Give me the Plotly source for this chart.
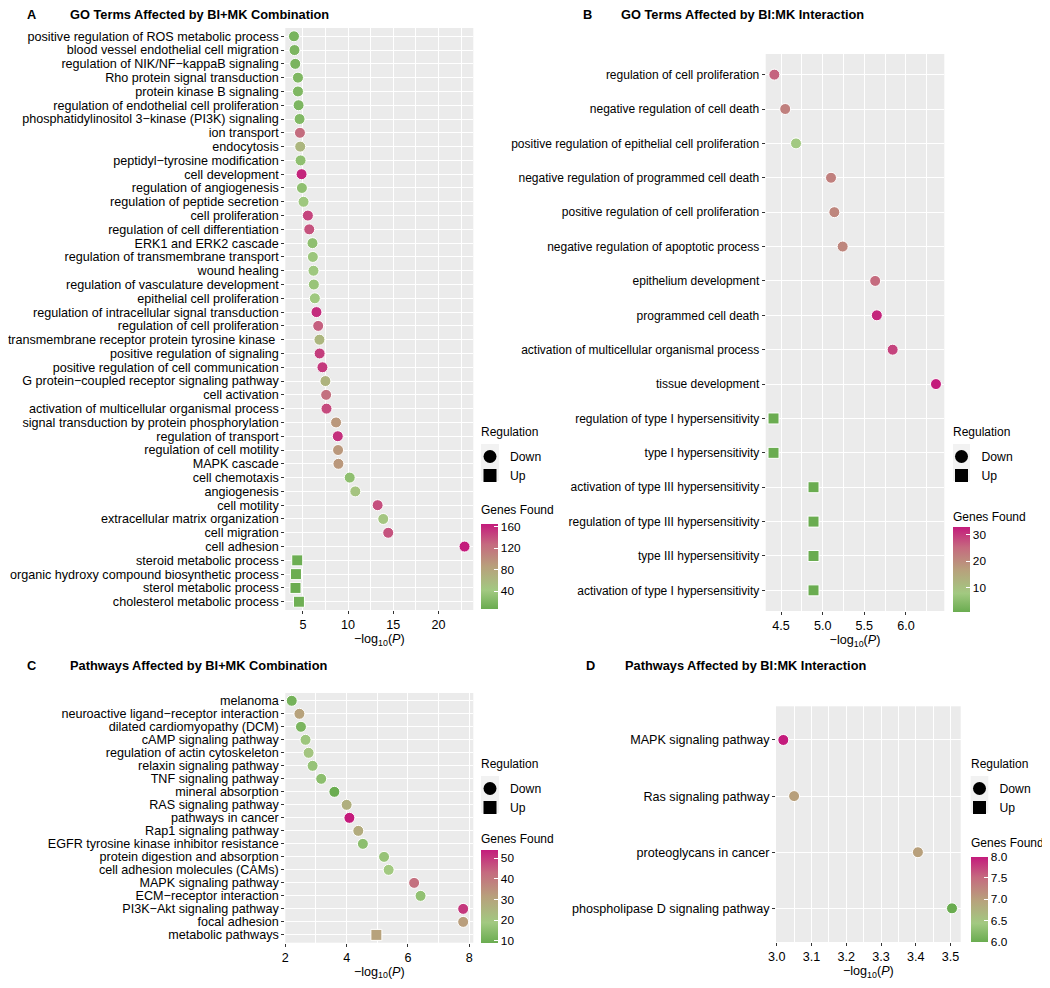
import plotly.graph_objects as go

# ---------------- data ----------------
a_terms = ["positive regulation of ROS metabolic process", "blood vessel endothelial cell migration",
           "regulation of NIK/NF−kappaB signaling", "Rho protein signal transduction", "protein kinase B signaling",
           "regulation of endothelial cell proliferation", "phosphatidylinositol 3−kinase (PI3K) signaling",
           "ion transport", "endocytosis", "peptidyl−tyrosine modification", "cell development",
           "regulation of angiogenesis", "regulation of peptide secretion", "cell proliferation",
           "regulation of cell differentiation", "ERK1 and ERK2 cascade", "regulation of transmembrane transport",
           "wound healing", "regulation of vasculature development", "epithelial cell proliferation",
           "regulation of intracellular signal transduction", "regulation of cell proliferation",
           "transmembrane receptor protein tyrosine kinase\u00a0", "positive regulation of signaling",
           "positive regulation of cell communication", "G protein−coupled receptor signaling pathway",
           "cell activation", "activation of multicellular organismal process",
           "signal transduction by protein phosphorylation", "regulation of transport", "regulation of cell motility",
           "MAPK cascade", "cell chemotaxis", "angiogenesis", "cell motility", "extracellular matrix organization",
           "cell migration", "cell adhesion", "steroid metabolic process",
           "organic hydroxy compound biosynthetic process", "sterol metabolic process",
           "cholesterol metabolic process"]
a_logp = [4.01, 4.07, 4.15, 4.45, 4.45, 4.52, 4.63, 4.67, 4.70, 4.74,
          4.85, 4.89, 5.07, 5.55, 5.70, 6.06, 6.10, 6.17, 6.21, 6.32,
          6.50, 6.69, 6.83, 6.85, 7.16, 7.49, 7.57, 7.61, 8.67, 8.86,
          8.89, 8.93, 10.18, 10.80, 13.27, 13.89, 14.44, 22.89,
          4.37, 4.23, 4.18, 4.56]
a_genes = [16, 18, 17, 20, 20, 18, 22, 125, 62, 30,
           160, 30, 40, 145, 138, 30, 38, 40, 36, 40,
           157, 132, 62, 148, 150, 66, 122, 142, 92, 155,
           92, 92, 30, 48, 140, 45, 138, 165,
           9, 8, 7, 10]
a_reg = ["Down"] * 38 + ["Up"] * 4

b_terms = ["regulation of cell proliferation", "negative regulation of cell death",
           "positive regulation of epithelial cell proliferation", "negative regulation of programmed cell death",
           "positive regulation of cell proliferation", "negative regulation of apoptotic process",
           "epithelium development", "programmed cell death", "activation of multicellular organismal process",
           "tissue development", "regulation of type I hypersensitivity", "type I hypersensitivity",
           "activation of type III hypersensitivity", "regulation of type III hypersensitivity",
           "type III hypersensitivity", "activation of type I hypersensitivity"]
b_logp = [4.42, 4.55, 4.68, 5.10, 5.14, 5.24, 5.63, 5.65, 5.84, 6.36, 4.41, 4.41, 4.89, 4.89, 4.89, 4.89]
b_genes = [26, 22, 8, 22, 21, 21, 25, 32, 29, 33, 1, 1, 1, 1, 1, 1]
b_reg = ["Down"] * 10 + ["Up"] * 6

c_terms = ["melanoma", "neuroactive ligand−receptor interaction", "dilated cardiomyopathy (DCM)",
           "cAMP signaling pathway", "regulation of actin cytoskeleton", "relaxin signaling pathway",
           "TNF signaling pathway", "mineral absorption", "RAS signaling pathway", "pathways in cancer",
           "Rap1 signaling pathway", "EGFR tyrosine kinase inhibitor resistance", "protein digestion and absorption",
           "cell adhesion molecules (CAMs)", "MAPK signaling pathway", "ECM−receptor interaction",
           "PI3K−Akt signaling pathway", "focal adhesion", "metabolic pathways"]
c_logp = [2.21, 2.46, 2.51, 2.66, 2.76, 2.89, 3.17, 3.60, 4.00, 4.09, 4.38, 4.53, 5.22, 5.37, 6.20, 6.41,
          7.80, 7.80, 4.97]
c_genes = [11, 31, 12, 18, 20, 17, 15, 9, 27, 54, 28, 15, 17, 19, 42, 16, 50, 32, 31]
c_reg = ["Down"] * 18 + ["Up"]

d_terms = ["MAPK signaling pathway", "Ras signaling pathway", "proteoglycans in cancer",
           "phospholipase D signaling pathway"]
d_logp = [3.019, 3.050, 3.406, 3.504]
d_genes = [8, 7, 7, 6]
d_reg = ["Down"] * 4

titles = ["GO Terms Affected by BI+MK Combination", "GO Terms Affected by BI:MK Interaction",
          "Pathways Affected by BI+MK Combination", "Pathways Affected by BI:MK Interaction"]
letters = ["A", "B", "C", "D"]
reg_levels = ["Down", "Up"]

# ---------------- styling / layout ----------------
# the page body has an 8 px margin, so the figure is sized to fill the rest of the window
OFF = 8
W, H = 1050 - OFF, 988 - OFF
FONT = "Liberation Sans, Arial, Helvetica, sans-serif"
COLORSCALE = [[0.0, "#6aac50"], [0.22, "#a2c981"], [0.5, "#b8a07c"], [0.76, "#c56a7f"], [1.0, "#c41b7c"]]
SYMBOLS = {"Down": "circle", "Up": "square"}


def fx(p):
    return (p - OFF) / W


def fy(p):
    return 1 - (p - OFF) / H


panels = [
    dict(terms=a_terms, logp=a_logp, genes=a_genes, reg=a_reg,
         px=(285.3, 473.3), py=(28, 610), xr=(3.05, 23.86), tick0=5, dtick=5, mdtick=2.5, fmt="",
         lab=(31, 15), tit=(68, 15), fs=12.6,
         leg=(481, 432, 499), cb=(481, 524, 609), cbt=(481, 510), cbtick=[40, 80, 120, 160], cbfmt=""),
    dict(terms=b_terms, logp=b_logp, genes=b_genes, reg=b_reg,
         px=(765.7, 944.3), py=(54, 611), xr=(4.316, 6.46), tick0=4.5, dtick=0.5, mdtick=0.25, fmt=".1f",
         lab=(587, 15), tit=(619, 15), fs=12.0,
         leg=(953, 432, 970), cb=(953, 526.7, 612), cbt=(953, 517), cbtick=[10, 20, 30], cbfmt=""),
    dict(terms=c_terms, logp=c_logp, genes=c_genes, reg=c_reg,
         px=(285.3, 473.3), py=(693, 942.7), xr=(2.0, 8.13), tick0=2, dtick=2, mdtick=1, fmt="",
         lab=(31, 665), tit=(68, 665), fs=12.6,
         leg=(481, 764, 499), cb=(481, 850, 942.7), cbt=(481, 839), cbtick=[10, 20, 30, 40, 50], cbfmt=""),
    dict(terms=d_terms, logp=d_logp, genes=d_genes, reg=d_reg,
         px=(776, 960.7), py=(706.3, 942), xr=(2.998, 3.529), tick0=3.0, dtick=0.1, mdtick=0.05, fmt=".1f",
         lab=(590, 665), tit=(623, 665), fs=12.6,
         leg=(970.7, 764, 988.3), cb=(970.7, 856.7, 942), cbt=(970.7, 843), cbtick=[6.0, 6.5, 7.0, 7.5, 8.0],
         cbfmt=".1f"),
]

fig = go.Figure()
layout = dict(width=W, height=H, margin=dict(l=0, r=0, t=0, b=0, pad=0, autoexpand=False),
              paper_bgcolor="white", template="none",
              plot_bgcolor="#EBEBEB", font=dict(family=FONT, size=12, color="#000000"),
              showlegend=True, annotations=[], shapes=[])

for i, p in enumerate(panels):
    n = i + 1
    xa = "x" if n == 1 else f"x{n}"
    ya = "y" if n == 1 else f"y{n}"
    xkey = "xaxis" if n == 1 else f"xaxis{n}"
    ykey = "yaxis" if n == 1 else f"yaxis{n}"
    cax = "coloraxis" if n == 1 else f"coloraxis{n}"
    lkey = "legend" if n == 1 else f"legend{n}"

    for r in reg_levels:
        idx = [k for k, v in enumerate(p["reg"]) if v == r]
        if idx:
            fig.add_trace(go.Scatter(
                x=[p["logp"][k] for k in idx], y=[p["terms"][k] for k in idx],
                mode="markers", xaxis=xa, yaxis=ya, showlegend=False,
                marker=dict(symbol=SYMBOLS[r], size=11, color=[p["genes"][k] for k in idx],
                            coloraxis=cax, line=dict(color="white", width=1)),
                hovertemplate="%{y}<br>%{x}<extra></extra>"))
        # legend entry
        fig.add_trace(go.Scatter(
            x=[None], y=[None], mode="markers", xaxis=xa, yaxis=ya, name=r, legend=lkey,
            marker=dict(symbol=SYMBOLS[r], size=13, color="black")))

    n_rows = len(p["terms"])
    layout[xkey] = dict(domain=[fx(p["px"][0]), fx(p["px"][1])], anchor=ya, range=list(p["xr"]),
                        automargin=False,
                        tickmode="linear", tick0=p["tick0"], dtick=p["dtick"], tickformat=p["fmt"],
                        showgrid=True, gridcolor="white", gridwidth=1.1, zeroline=False,
                        ticks="outside", ticklen=3, tickcolor="#333333", tickwidth=1,
                        tickfont=dict(size=12.6, color="#000000"),
                        minor=dict(tickmode="linear", tick0=p["tick0"], dtick=p["mdtick"], showgrid=True,
                                   gridcolor="white", gridwidth=0.5, ticks=""),
                        title=dict(text="−log<sub>10</sub>(<i>P</i>)", font=dict(size=12.6), standoff=2),
                        showline=False, fixedrange=True)
    layout[ykey] = dict(domain=[fy(p["py"][1]), fy(p["py"][0])], anchor=xa, type="category",
                        automargin=False,
                        categoryorder="array", categoryarray=p["terms"],
                        tickmode="array", tickvals=p["terms"], ticktext=p["terms"],
                        range=[n_rows - 1 + 0.6, -0.6], showgrid=True, gridcolor="white", gridwidth=1.1,
                        ticks="outside", ticklen=3, tickcolor="#333333", tickwidth=1,
                        tickfont=dict(size=p["fs"], color="#000000"), zeroline=False, showline=False,
                        fixedrange=True)

    gmin, gmax = min(p["genes"]), max(p["genes"])
    layout[cax] = dict(colorscale=COLORSCALE, cmin=gmin, cmax=gmax,
                       colorbar=dict(x=fx(p["cb"][0]), xanchor="left", y=fy(p["cb"][1]), yanchor="top",
                                     len=p["cb"][2] - p["cb"][1], lenmode="pixels", thickness=17,
                                     thicknessmode="pixels", xpad=0, ypad=0, outlinewidth=0,
                                     tickmode="array", tickvals=p["cbtick"], tickformat=p["cbfmt"],
                                     ticks="inside", ticklen=4, tickcolor="white",
                                     tickfont=dict(size=11.8, color="#000000")))

    lx, ly, lx2 = p["leg"]
    layout[lkey] = dict(x=fx(lx + (lx2 - lx) / 2 - 20), xanchor="left", y=fy(ly + 10), yanchor="top",
                        bgcolor="rgba(0,0,0,0)", font=dict(size=12.2), itemsizing="trace",
                        tracegroupgap=0, borderwidth=0)
    # grey key backgrounds
    layout["shapes"].append(dict(type="rect", xref="paper", yref="paper", x0=fx(lx), x1=fx(lx2),
                                 y0=fy(ly + 12), y1=fy(ly + 49), fillcolor="#F2F2F2",
                                 line=dict(width=0), layer="above"))
    # annotations (left-anchored ones shifted by the 2 px annotation padding)
    ann = layout["annotations"]
    ann.append(dict(text="<b>" + letters[i] + "</b>", x=fx(p["lab"][0]), y=fy(p["lab"][1]), xref="paper",
                    yref="paper", xanchor="center", yanchor="middle", showarrow=False, font=dict(size=12.8)))
    ann.append(dict(text="<b>" + titles[i] + "</b>", x=fx(p["tit"][0]), y=fy(p["tit"][1]), xref="paper",
                    yref="paper", xanchor="left", yanchor="middle", showarrow=False, font=dict(size=12.8)))
    ann.append(dict(text="Regulation", x=fx(lx - 2), y=fy(ly), xref="paper", yref="paper", xanchor="left",
                    yanchor="middle", showarrow=False, font=dict(size=12.0)))
    ann.append(dict(text="Genes Found", x=fx(p["cbt"][0] - 2), y=fy(p["cbt"][1]), xref="paper", yref="paper",
                    xanchor="left", yanchor="middle", showarrow=False, font=dict(size=12.0)))

fig.update_layout(**layout)
fig.write_html("out.html")
